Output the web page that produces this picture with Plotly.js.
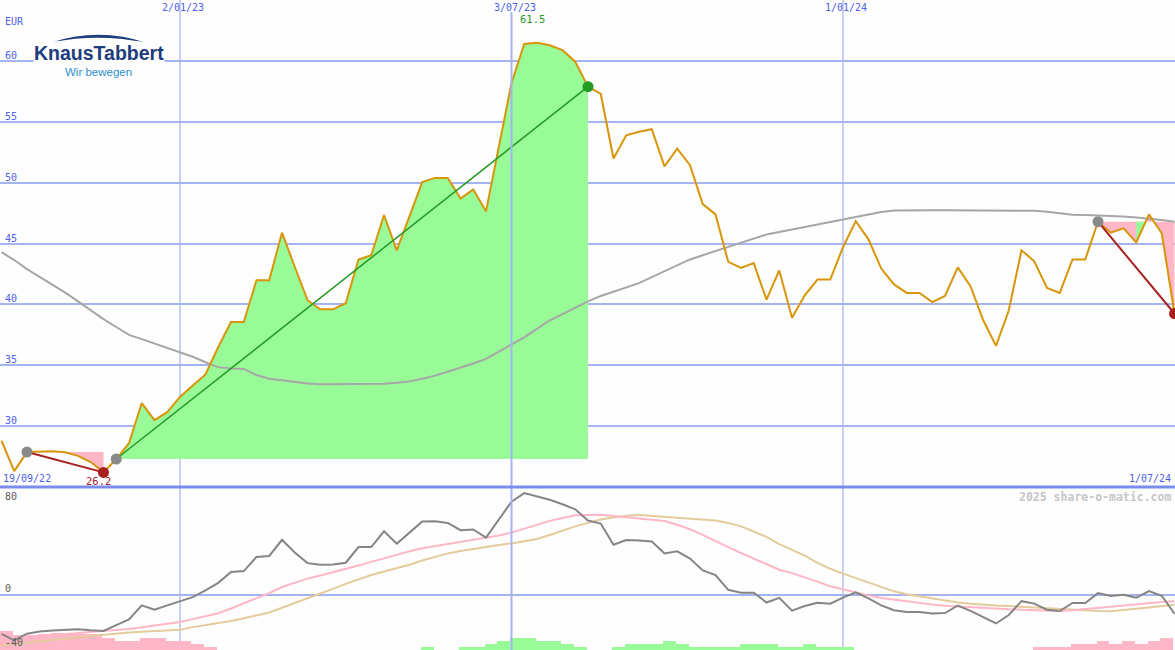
<!DOCTYPE html>
<html><head><meta charset="utf-8">
<script src="https://cdn.plot.ly/plotly-3.0.1.min.js"></script>
<style>html,body{margin:0;padding:0;background:#fdfefd;}#chart{width:1175px;height:650px;}</style>
</head><body><div id="chart"></div>
<script>
// ---------- DATA ----------
const weeks = [
'2022-09-26','2022-10-03','2022-10-10','2022-10-17','2022-10-24','2022-10-31','2022-11-07','2022-11-14','2022-11-21','2022-11-28',
'2022-12-05','2022-12-12','2022-12-19','2022-12-26','2023-01-02','2023-01-09','2023-01-16','2023-01-23','2023-01-30','2023-02-06',
'2023-02-13','2023-02-20','2023-02-27','2023-03-06','2023-03-13','2023-03-20','2023-03-27','2023-04-03','2023-04-10','2023-04-17',
'2023-04-24','2023-05-01','2023-05-08','2023-05-15','2023-05-22','2023-05-29','2023-06-05','2023-06-12','2023-06-19','2023-06-26',
'2023-07-03','2023-07-10','2023-07-17','2023-07-24','2023-07-31','2023-08-07','2023-08-14','2023-08-21','2023-08-28','2023-09-04',
'2023-09-11','2023-09-18','2023-09-25','2023-10-02','2023-10-09','2023-10-16','2023-10-23','2023-10-30','2023-11-06','2023-11-13',
'2023-11-20','2023-11-27','2023-12-04','2023-12-11','2023-12-18','2023-12-25','2024-01-01','2024-01-08','2024-01-15','2024-01-22',
'2024-01-29','2024-02-05','2024-02-12','2024-02-19','2024-02-26','2024-03-04','2024-03-11','2024-03-18','2024-03-25','2024-04-01',
'2024-04-08','2024-04-15','2024-04-22','2024-04-29','2024-05-06','2024-05-13','2024-05-20','2024-05-27','2024-06-03','2024-06-10',
'2024-06-17','2024-06-24','2024-07-01'];

const price = [
28.8,26.3,27.87,27.93,27.93,27.85,27.56,27.05,26.2,27.3,
28.6,31.9,30.5,31.15,32.4,33.35,34.25,36.5,38.55,38.55,
42.0,42.0,45.9,43.1,40.35,39.6,39.6,40.1,43.7,44.05,
47.35,44.45,47.3,50.05,50.4,50.4,48.7,49.45,47.65,53.0,
58.2,61.4,61.5,61.3,60.9,59.95,57.9,57.3,52.0,53.9,
54.2,54.4,51.35,52.8,51.45,48.25,47.4,43.5,43.0,43.4,
40.4,42.8,38.9,40.75,42.05,42.05,44.7,46.85,45.35,42.95,
41.65,40.95,40.95,40.2,40.7,43.05,41.5,38.7,36.6,39.5,
44.45,43.55,41.35,40.95,43.7,43.7,46.8,45.9,46.25,45.1,
47.4,45.85,39.25];

const ma200 = [
44.3,43.65,42.9,42.27,41.6,40.97,40.25,39.5,38.8,38.15,
37.5,37.15,36.8,36.45,36.1,35.7,35.25,34.85,34.73,34.7,
34.2,33.9,33.77,33.64,33.5,33.44,33.44,33.44,33.44,33.44,
33.48,33.57,33.68,33.9,34.15,34.47,34.8,35.15,35.53,36.1,
36.7,37.3,38.0,38.7,39.2,39.75,40.25,40.7,41.05,41.35,
41.75,42.25,42.72,43.2,43.7,44.05,44.4,44.75,45.1,45.45,
45.75,45.95,46.16,46.37,46.57,46.78,46.98,47.2,47.45,47.6,
47.72,47.75,47.75,47.75,47.75,47.75,47.73,47.72,47.71,47.7,
47.7,47.7,47.62,47.48,47.38,47.35,47.32,47.28,47.22,47.15,
47.07,46.95,46.8];

const momentum = [
-29,-33.8,-28.9,-27.3,-26.6,-26.0,-25.6,-26.4,-26.8,-22.5,
-18.3,-7.9,-11.1,-7.9,-4.7,-1.8,3.3,8.8,16.8,17.5,
28,28.7,40.7,31.3,23.4,22.2,22.3,23.7,35.3,35.3,
47,37.8,46,54.2,54.4,53.2,47.8,48.3,42.3,55.6,
68.9,75.3,73,70.3,67,63.3,55,52.7,37,40.5,
40.1,39.4,30.5,32.1,26.8,18,14.6,3.6,1.5,1.5,
-5.8,-2.3,-11.8,-8.4,-5.9,-6.7,-2.2,1.8,-2.7,-7.9,
-11.5,-12.8,-12.8,-14,-13.6,-8,-12,-16.8,-21.3,-15,
-4.8,-6.6,-11.1,-12.1,-6.1,-6.1,1.2,-1.0,0,-2.2,
2.7,-0.8,-14.1];

const avgFast = [
-32.9,-32.3,-31.6,-31.0,-30.1,-29.2,-28.2,-27.5,-26.7,-26.1,
-25.4,-24.1,-22.8,-21.5,-20.2,-18.1,-16.0,-13.7,-10.2,-6.4,
-2.6,1.2,5.7,8.7,11.9,14.3,16.6,19.0,21.6,24.3,
27.0,29.7,32.2,34.4,36.0,37.5,39.0,40.4,41.9,43.9,
46.0,49.0,52.0,54.7,56.8,58.8,59.1,59.3,58.4,57.5,
56.6,55.6,54.6,51.8,48.5,44.3,39.5,35.3,30.9,26.8,
22.8,18.5,16.0,13.0,9.7,6.2,3.8,1.6,-0.5,-2.5,
-3.8,-4.8,-5.9,-7.3,-8.2,-8.8,-9.4,-9.9,-10.4,-10.8,
-11.1,-11.4,-11.7,-12.0,-11.6,-10.7,-9.6,-8.8,-7.8,-6.9,
-6.0,-5.4,-4.9];

const avgSlow = [
-37.4,-36.5,-35.5,-34.5,-33.5,-32.6,-31.6,-30.5,-29.5,-28.8,
-28.0,-27.4,-26.9,-26.4,-25.9,-24.0,-22.5,-21.3,-19.4,-17.5,
-15.6,-13.2,-9.7,-6.3,-3.0,0.4,4.3,8.0,11.6,14.6,
17.2,19.5,22.2,25.3,28.1,30.6,32.4,34.0,35.6,36.9,
38.0,39.5,41.3,44.2,47.6,50.6,53.2,55.7,57.2,58.5,
59.0,58.4,57.7,57.0,56.4,55.8,54.9,53.2,50.6,46.8,
42.8,37.5,33.0,29.0,23.6,19.2,15.6,12.3,8.8,5.4,
2.5,0.3,-1.3,-2.9,-4.7,-5.8,-6.7,-7.5,-8.0,-8.4,
-8.9,-9.7,-10.4,-10.9,-11.3,-11.7,-12.0,-12.3,-11.5,-10.5,
-9.5,-8.4,-7.4];

const histogram = [
-6.3,-5,-4.9,-5.4,-5.8,-5.8,-5.4,-5.4,-4,-3,
-3,-4,-4,-3,-3,-1.9,-1,0,0,0,
0,0,0,0,0,0,0,0,0,0,
0,0,0,1,0,0,1,1,2.1,3,
4,4,3,3,2.1,1,0,0,1,2.1,
2.1,2.1,3,2.1,1,1,1,1,2.1,2.1,
2.1,1,1,2.1,1,1,1,0,0,0,
0,0,0,0,0,0,0,0,0,0,
0,-1,-1,-1,-2.1,-2.1,-3,-2.1,-3,-2.1,
-3,-4,0];

const priceTicks = [30,35,40,45,50,55,60];
const oscTicks = [80,0,-40];
const dateTicks = ['2023-01-02','2023-07-03','2024-01-01'];
const dateTickText = ['2/01/23','3/07/23','1/01/24'];
const markerDate = '2023-07-03';                // one-year-back marker line, drawn over the fills
const startLabel = '19/09/22';
const endLabel = '1/07/24';
const currency = 'EUR';
const trendSegments = [[2,8],[9,46],[86,92]];   // [start week index, end week index]
const risePatch = [89,90];                      // short rise inside last segment
const brand = 'KnausTabbert';
const slogan = 'Wir bewegen';
const credit = '2025 share-o-matic.com';

// ---------- STYLE ----------
const BG = '#fdfefd';
const GRID = '#a6b3f1';
const SEP = '#7b8cf1';
const LBL = '#4d62e8';
const ORANGE = '#d9950a';
const GREENFILL = '#98fb98';
const PINK = '#ffb6c6';
const GREEN = '#239a23';
const RED = '#a8201f';
const split = 163/650;
const DAY = 86400000;

function ms(d){return new Date(d.replace(' ','T') + (d.length<=10?'T00:00:00Z':'Z')).getTime();}
function iso(t){return new Date(t).toISOString().slice(0,19).replace('T',' ');}

const traces = [];
const isUp = s => price[s[1]] > price[s[0]];

// fills between price and the segment start level
trendSegments.forEach(s=>{
  const base = price[s[0]];
  traces.push({x:[weeks[s[0]],weeks[s[1]]], y:[base,base], xaxis:'x', yaxis:'y', mode:'lines', line:{width:0,color:'rgba(0,0,0,0)'}, hoverinfo:'skip'});
  traces.push({x:weeks.slice(s[0],s[1]+1), y:price.slice(s[0],s[1]+1), xaxis:'x', yaxis:'y', mode:'lines', line:{width:0,color:'rgba(0,0,0,0)'},
    fill:'tonexty', fillcolor: isUp(s)?GREENFILL:PINK, hoverinfo:'skip'});
});
// green patch where price climbs back toward the start level
(function(){
  const seg = trendSegments[2];
  const base = price[seg[0]];
  const a = risePatch[0], b = risePatch[1];
  const t = (base - price[a])/(price[b]-price[a]);
  const xc = iso(ms(weeks[a]) + t*(ms(weeks[b])-ms(weeks[a])));
  traces.push({x:[weeks[a],weeks[a],xc,weeks[a]], y:[base,price[a],base,base], xaxis:'x', yaxis:'y', mode:'lines',
    line:{width:0,color:'rgba(0,0,0,0)'}, fill:'toself', fillcolor:GREENFILL, hoverinfo:'skip'});
})();

// moving average
traces.push({x:weeks, y:ma200, xaxis:'x', yaxis:'y', mode:'lines', line:{color:'#a6a6a6', width:2}});
// price
traces.push({x:weeks, y:price, xaxis:'x', yaxis:'y', mode:'lines', line:{color:ORANGE, width:2}});
// trend lines + markers
trendSegments.forEach(s=>{
  const up = isUp(s);
  traces.push({x:[weeks[s[0]],weeks[s[1]]], y:[price[s[0]],price[s[1]]], xaxis:'x', yaxis:'y', mode:'lines',
    line:{color: up?GREEN:RED, width: up?1.5:2}});
  traces.push({x:[weeks[s[0]]], y:[price[s[0]]], xaxis:'x', yaxis:'y', mode:'markers', marker:{size:11,color:'#8a8a8a'}});
  traces.push({x:[weeks[s[1]]], y:[price[s[1]]], xaxis:'x', yaxis:'y', mode:'markers', marker:{size:11,color: up?GREEN:RED}});
});

// lower panel bars (base axis y2) and lines (overlay y3)
traces.push({type:'bar', x:weeks.map(w=>iso(ms(w)+2.7*DAY)), y:histogram.map(Math.abs), width:7*DAY,
  xaxis:'x2', yaxis:'y2', marker:{color:histogram.map(v=>v<0?PINK:GREENFILL), line:{width:0}}, hoverinfo:'skip'});
traces.push({x:weeks, y:avgSlow, xaxis:'x2', yaxis:'y3', mode:'lines', line:{color:'#e3cb9c', width:2}});
traces.push({x:weeks, y:avgFast, xaxis:'x2', yaxis:'y3', mode:'lines', line:{color:PINK, width:2}});
traces.push({x:weeks, y:momentum, xaxis:'x2', yaxis:'y3', mode:'lines', line:{color:'#858585', width:2}});

// ---------- ANNOTATIONS ----------
const fnt = (c,s)=>({family:'DejaVu Sans Mono', size:s||10, color:c});
const ann = [];
priceTicks.forEach(v=>ann.push({xref:'paper', x:0, xanchor:'left', xshift:3, yref:'y', y:v, yanchor:'bottom', yshift:-2,
  text:String(v), showarrow:false, font:fnt(LBL)}));
ann.push({xref:'paper', x:0, xanchor:'left', xshift:3, yref:'paper', y:1, yanchor:'top', yshift:-14, text:currency, showarrow:false, font:fnt(LBL)});
dateTicks.forEach((d,i)=>ann.push({xref:'x', x:d, xanchor:'center', xshift:3, yref:'paper', y:1, yanchor:'top', yshift:0,
  text:dateTickText[i], showarrow:false, font:fnt(LBL)}));
ann.push({xref:'paper', x:0, xanchor:'left', xshift:1, yref:'paper', y:split, yanchor:'bottom', yshift:1, text:startLabel, showarrow:false, font:fnt(LBL)});
ann.push({xref:'paper', x:1, xanchor:'right', xshift:-2, yref:'paper', y:split, yanchor:'bottom', yshift:1, text:endLabel, showarrow:false, font:fnt(LBL)});
// oscillator labels (top one hangs below the panel top)
const oscTop = 79.8;
oscTicks.forEach(v=>{
  const atTop = v >= oscTop - 1;
  ann.push({xref:'paper', x:0, xanchor:'left', xshift:3, yref: atTop?'paper':'y3', y: atTop?split:v,
    yanchor: atTop?'top':'bottom', yshift: atTop?-2:-1, text:String(v), showarrow:false, font:fnt('#5c5c5c')});
});
ann.push({xref:'paper', x:1, xanchor:'right', xshift:-2, yref:'paper', y:split, yanchor:'top', yshift:-1, text:'<b>'+credit+'</b>', showarrow:false, font:fnt('#c6c6c6',11.5)});
// max / min labels
const imax = price.indexOf(Math.max(...price));
ann.push({xref:'x', x:weeks[imax], xanchor:'center', xshift:-5, yref:'y', y:price[imax], yanchor:'bottom', yshift:16,
  text:price[imax].toFixed(1), showarrow:false, font:fnt(GREEN,10.5)});
const seg0 = trendSegments[0];
ann.push({xref:'x', x:weeks[seg0[1]], xanchor:'center', xshift:-5, yref:'y', y:price[seg0[1]], yanchor:'top', yshift:-1,
  text:price[seg0[1]].toFixed(1), showarrow:false, font:fnt(RED,10.5)});
// logo
ann.push({xref:'paper', x:99/1175, xanchor:'center', yref:'paper', y:1-53/650, yanchor:'middle', text:'<b>'+brand+'</b>', showarrow:false,
  bgcolor:BG, borderpad:0, font:{family:'Liberation Sans', size:19.5, color:'#1d3d7c'}});
ann.push({xref:'paper', x:99/1175, xanchor:'center', yref:'paper', y:1-72/650, yanchor:'middle', text:slogan, showarrow:false,
  font:{family:'Liberation Sans', size:11.5, color:'#2b8fd3'}});

// vertical date grid lines through both panels
const vgrid = dateTicks.map(d=>({type:'line', layer: d===markerDate?'above':'below', xref:'x', yref:'paper', x0:d, x1:d,
  y0:0, y1: d===markerDate?1-12/650:1, line:{color:GRID, width: d===markerDate?2:1.2}}));

const layout = {
  width:1175, height:650, margin:{l:0,r:0,t:0,b:0}, paper_bgcolor:BG, plot_bgcolor:BG, showlegend:false,
  font:{family:'DejaVu Sans Mono', size:10, color:LBL}, bargap:0, hovermode:false,
  xaxis:{domain:[0,1], anchor:'y', type:'date', range:['2022-09-25 04:20','2024-07-01 06:30'], showticklabels:false,
    showgrid:false, zeroline:false, showline:false, ticks:''},
  xaxis2:{domain:[0,1], anchor:'y2', type:'date', matches:'x', showticklabels:false,
    showgrid:false, zeroline:false, showline:false, ticks:''},
  yaxis:{domain:[split,1], anchor:'x', range:[25,65.02], tickvals:priceTicks, showticklabels:false, showgrid:true, gridcolor:GRID, gridwidth:2, zeroline:false, ticks:''},
  yaxis2:{domain:[0,split], anchor:'x2', range:[0,163/3], showticklabels:false, showgrid:false, zeroline:false, ticks:''},
  yaxis3:{overlaying:'y2', anchor:'x2', range:[-40.96,oscTop], tickvals:[0], showticklabels:false, showgrid:true, gridcolor:GRID, gridwidth:2, zeroline:false, ticks:''},
  shapes: vgrid.concat([
    {type:'line', xref:'paper', yref:'paper', x0:0, x1:1, y0:split, y1:split, line:{color:SEP, width:3}},
    {type:'path', xref:'paper', yref:'paper', fillcolor:'#1d3d7c', line:{width:0},
     path:'M 0.04511 0.93538 Q 0.08511 0.95846 0.12511 0.93385 Q 0.08511 0.94923 0.04511 0.93538 Z'}
  ]),
  annotations:ann
};
Plotly.newPlot('chart', traces, layout, {staticPlot:true, displayModeBar:false});
</script>
</body></html>
